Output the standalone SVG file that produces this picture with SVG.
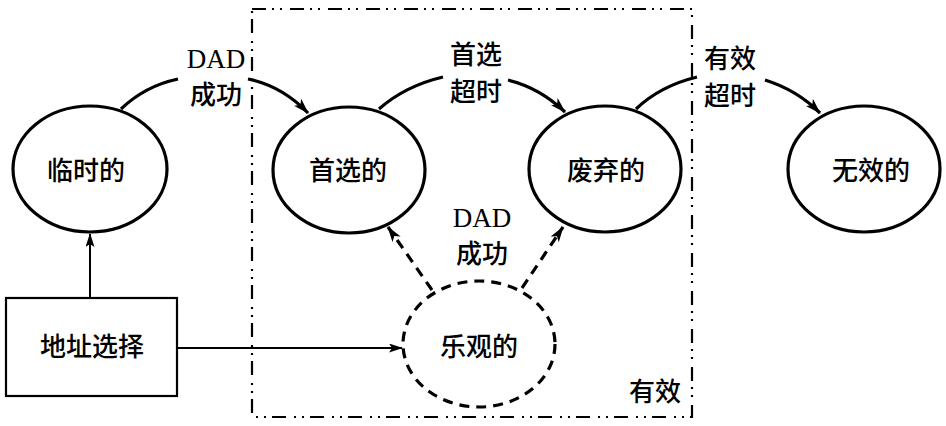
<svg xmlns="http://www.w3.org/2000/svg" width="946" height="426" viewBox="0 0 946 426">
<defs>
<style>
.node{fill:none;stroke:#000;stroke-width:3.2}
.dash{fill:none;stroke:#000;stroke-width:3.2;stroke-dasharray:10 7}
.cn{font-family:"Noto Sans CJK SC","Noto Sans",sans-serif;font-size:26px;font-weight:500;fill:#000;text-anchor:middle}
.en{font-family:"Liberation Serif",serif;font-size:27px;fill:#000;text-anchor:middle}
.curve{fill:none;stroke:#000;stroke-width:3.2}
.thin{fill:none;stroke:#000;stroke-width:2}
</style>
<marker id="ah" markerUnits="userSpaceOnUse" viewBox="0 0 16 10" markerWidth="16" markerHeight="10" refX="15" refY="5" orient="auto">
<path d="M0,0 L16,5 L0,10 L4,5 z" fill="#000"/>
</marker>
<marker id="ahs" markerUnits="userSpaceOnUse" viewBox="0 0 14 9" markerWidth="14" markerHeight="9" refX="13" refY="4.5" orient="auto">
<path d="M0,0 L14,4.5 L0,9 L3,4.5 z" fill="#000"/>
</marker>
</defs>
<rect width="946" height="426" fill="#fff"/>
<g id="valid-region">
<rect x="252" y="9" width="440" height="408" fill="none" stroke="#000" stroke-width="2.2" stroke-dasharray="14 6 2 6 2 8"/>
<text class="cn" x="655" y="401">有效</text>
</g>
<g id="tentative">
<ellipse class="node" cx="90" cy="169" rx="77" ry="63"/>
<text class="cn" x="86" y="180">临时的</text>
</g>
<g id="preferred">
<ellipse class="node" cx="349" cy="170" rx="76" ry="63"/>
<text class="cn" x="348" y="180">首选的</text>
</g>
<g id="deprecated">
<ellipse class="node" cx="605" cy="169" rx="76" ry="63"/>
<text class="cn" x="606" y="180">废弃的</text>
</g>
<g id="invalid">
<ellipse class="node" cx="864" cy="169" rx="76" ry="63"/>
<text class="cn" x="871" y="180">无效的</text>
</g>
<g id="optimistic">
<ellipse class="dash" cx="479" cy="344" rx="76" ry="63"/>
<text class="cn" x="479" y="356">乐观的</text>
</g>
<g id="address-selection">
<rect x="6" y="298" width="171" height="98" fill="none" stroke="#000" stroke-width="2.2"/>
<text class="cn" x="92" y="356">地址选择</text>
</g>
<g id="connectors">
<path class="curve" d="M121,109 Q145,86 178,79"/>
<path class="curve" d="M248,79 Q282,86 308,113" marker-end="url(#ah)"/>
<path class="curve" d="M379,109 Q405,86 443,77"/>
<path class="curve" d="M508,80 Q540,88 565,112" marker-end="url(#ah)"/>
<path class="curve" d="M636,109 Q660,86 697,77"/>
<path class="curve" d="M765,80 Q797,90 820,113" marker-end="url(#ah)"/>
<path class="dash" d="M432,290 L388,227" marker-end="url(#ah)"/>
<path class="dash" d="M522,288 L563,227" marker-end="url(#ah)"/>
<path class="thin" d="M90,298 L90,234" marker-end="url(#ahs)"/>
<path class="thin" d="M177,348 L402,348" marker-end="url(#ahs)"/>
</g>
<g id="labels">
<text class="en" x="216" y="68">DAD</text>
<text class="cn" x="216" y="104">成功</text>
<text class="cn" x="476" y="64">首选</text>
<text class="cn" x="476" y="101">超时</text>
<text class="cn" x="730" y="68">有效</text>
<text class="cn" x="730" y="105">超时</text>
<text class="en" x="482" y="227">DAD</text>
<text class="cn" x="482" y="263">成功</text>
</g>
</svg>
